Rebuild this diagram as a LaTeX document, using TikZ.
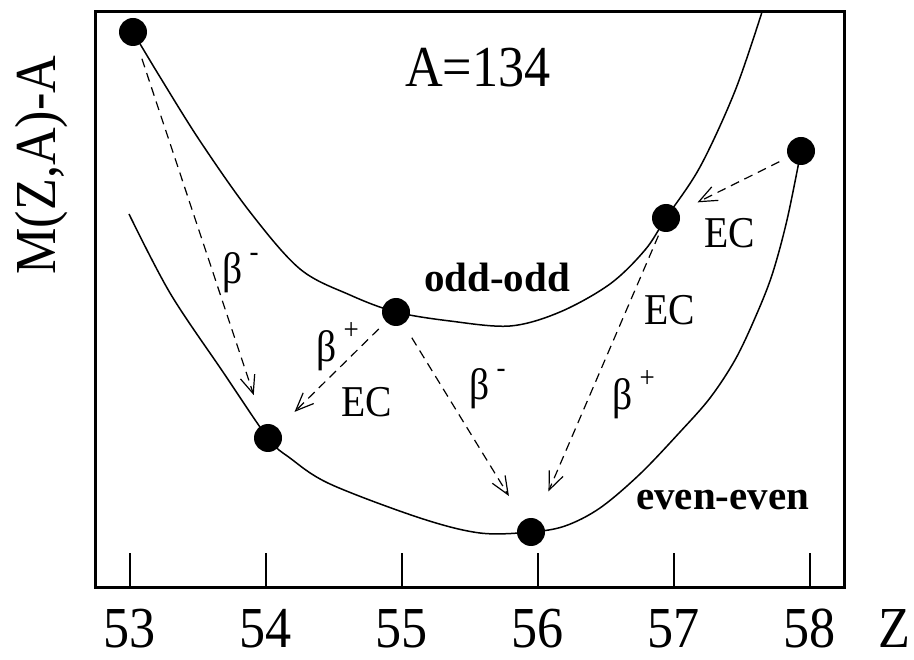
\documentclass[tikz,border=0pt]{standalone}
\usepackage{fontspec}
\setmainfont{Liberation Serif}[FakeStretch=0.9]
\newfontfamily\tagfont{Liberation Serif}
\usetikzlibrary{arrows.meta}
\newcommand{\sgn}[1]{\raisebox{22pt}{\fontsize{30}{30}\selectfont #1}}

\begin{document}
\begin{tikzpicture}[
        x=1pt, y=-1pt,
        nucl/.style={circle, fill=black, inner sep=0pt, minimum size=28pt},
        parabola/.style={line width=1.5pt, line join=round},
        decay/.style={-{Straight Barb[length=18pt,width=15pt,line width=1.2pt]},
            line width=1.2pt, dash pattern=on 9pt off 6pt},
        lbl/.style={font=\fontsize{44}{44}\selectfont, inner sep=0pt, anchor=base west},
        tag/.style={font=\tagfont\bfseries\fontsize{41}{41}\selectfont, inner sep=0pt, anchor=base west},
        axislbl/.style={font=\fontsize{58}{58}\selectfont, inner sep=0pt}
    ]
        \useasboundingbox (0,0) rectangle (914,660);

        % nuclei on the two mass parabolas
        \node[nucl] (z53) at (133,32) {};
        \node[nucl] (z54) at (268,438) {};
        \node[nucl] (z55) at (396,312) {};
        \node[nucl] (z56) at (531,532) {};
        \node[nucl] (z57) at (666,218) {};
        \node[nucl] (z58) at (801,151) {};

        % odd-odd parabola
        \draw[parabola] plot[smooth, tension=0.55] coordinates {(z53.center) (160,77)
            (200,141) (250,212) (300,269) (350,295) (z55.center) (450,321) (510,326)
            (560,312) (610,284) (645,250) (z57.center) (700,167) (735,91) (762,12)};
        % even-even parabola
        \draw[parabola] plot[smooth, tension=0.55] coordinates {(129,214) (170,293)
            (223,372) (z54.center) (290,458) (330,484) (420,518) (480,533) (z56.center)
            (565,526) (600,508) (640,474) (680,432) (710,398) (735,360) (755,318)
            (772,275) (787,220) (z58.center)};

        % frame and ticks
        \draw[line width=3pt] (95,12) rectangle (844,587);
        \foreach \z [count=\i from 0] in {53,...,58} {
            \draw[line width=2pt] (129.5+136*\i,553) -- (129.5+136*\i,587);
            \node[axislbl, anchor=base] (t\z) at (129.5+136*\i,647) {\z};
        }
        \node[axislbl, anchor=base] (zlab) at (894,647) {Z};
        \node[axislbl, rotate=90] (ylab) at (42,165) {M(Z,A)-A};
        \node[axislbl, anchor=base west] (title) at (405,87) {A=134};

        % decays
        \draw[decay, shorten <=14pt, shorten >=31pt] (z53) -- (z54);
        \draw[decay, shorten <=10pt, shorten >=23pt] (z55) -- (z54);
        \draw[decay, shorten <=16pt, shorten >=28pt] (z55) -- (z56);
        \draw[decay, shorten <=5pt, shorten >=30pt] (z57) -- (z56);
        \draw[decay, shorten <=10pt, shorten >=21pt] (z58) -- (z57);

        % labels
        \node[lbl] (bm1) at (222,284) {β\,\sgn{-}};
        \node[lbl] (bp1) at (316,362) {β\,\sgn{+}};
        \node[lbl] (ec1) at (341,417) {EC};
        \node[lbl] (bm2) at (469,400) {β\,\sgn{-}};
        \node[lbl] (ec2) at (704,248) {EC};
        \node[lbl] (ec3) at (644,325) {EC};
        \node[lbl] (bp2) at (612,410) {β\,\sgn{+}};
        \node[tag] (oddodd) at (424,292) {odd-odd};
        \node[tag] (eveneven) at (636,510) {even-even};
    \end{tikzpicture}
\end{document}
